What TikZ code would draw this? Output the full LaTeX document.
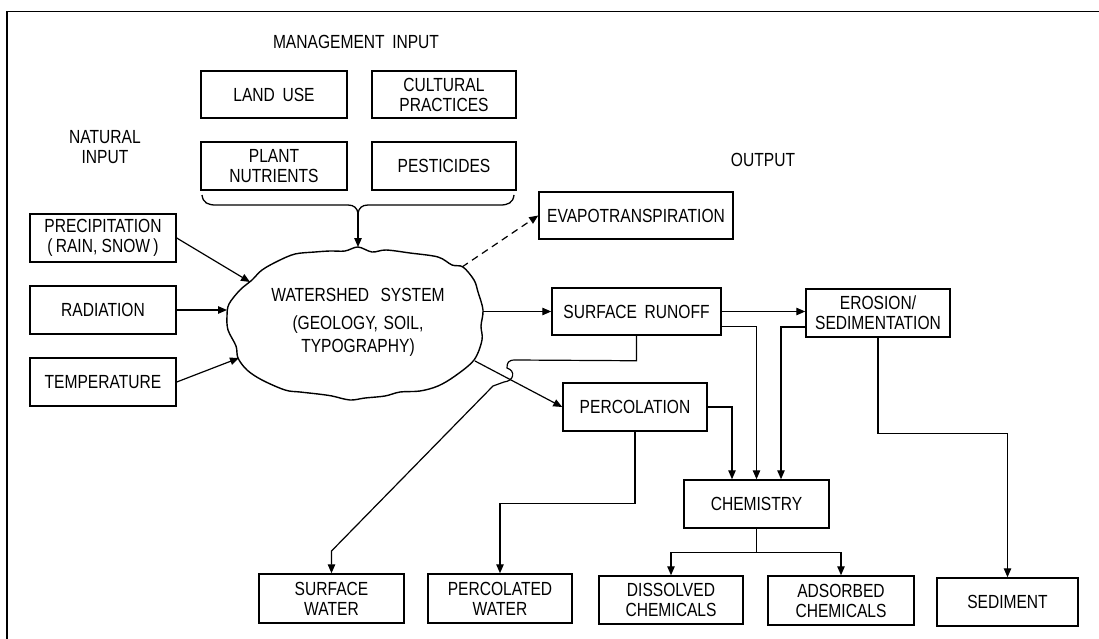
\documentclass[tikz,border=0pt]{standalone}
\usepackage{fontspec}
\newfontfamily\lab{Liberation Sans}[FakeStretch=0.82]
\usetikzlibrary{arrows.meta}
\tikzset{
  box/.style={draw, line width=1.5pt, inner sep=0pt, align=center, font=\lab\fontsize{19}{20}\selectfont},
  lbl/.style={inner sep=0pt, align=center, font=\lab\fontsize{19}{20}\selectfont},
  conn/.style={line width=1.2pt},
  arr/.style={conn, -{Triangle[length=9pt,width=7.5pt]}},
}
\begin{document}
\begin{tikzpicture}[x=1pt,y=-1pt]
\useasboundingbox (0,0) rectangle (1099,639);
% frame (top and left edges)
\draw[line width=1.6pt] (1099,11.5) -- (7,11.5) -- (7,639);

% headings
\node[lbl] (mgmt) at (356,42) {MANAGEMENT\hspace{0.4em}INPUT};
\node[lbl] (nat) at (105,147) {NATURAL\\INPUT};
\node[lbl] (out) at (763,160) {OUTPUT};

% management boxes
\node[box, minimum width=146pt, minimum height=47pt] (land) at (274,94.5) {LAND\hspace{0.4em}USE};
\node[box, minimum width=144pt, minimum height=47pt] (cult) at (444,94.5) {CULTURAL\\PRACTICES};
\node[box, minimum width=146pt, minimum height=48pt] (plant) at (274,166) {PLANT\\NUTRIENTS};
\node[box, minimum width=144pt, minimum height=48pt] (pest) at (444,166) {PESTICIDES};

% natural input boxes
\node[box, minimum width=146pt, minimum height=48pt] (prec) at (103,238) {PRECIPITATION\\(\,RAIN, SNOW\,)};
\node[box, minimum width=146pt, minimum height=48pt] (rad) at (103,310) {RADIATION};
\node[box, minimum width=146pt, minimum height=48pt] (temp) at (103,382) {TEMPERATURE};

% output boxes
\node[box, minimum width=194pt, minimum height=47pt] (evap) at (636,215.5) {EVAPOTRANSPIRATION};
\node[box, minimum width=169pt, minimum height=47pt] (sr) at (636.5,311.5) {SURFACE\hspace{0.4em}RUNOFF};
\node[box, minimum width=144pt, minimum height=48pt] (eros) at (878,313) {EROSION/\\SEDIMENTATION};
\node[box, minimum width=144pt, minimum height=48pt] (perc) at (635,407) {PERCOLATION};
\node[box, minimum width=145pt, minimum height=48pt] (chem) at (756.5,504) {CHEMISTRY};
\node[box, minimum width=145pt, minimum height=49pt] (sw) at (331.5,598.5) {SURFACE\\WATER};
\node[box, minimum width=144pt, minimum height=49pt] (pw) at (500,598.5) {PERCOLATED\\WATER};
\node[box, minimum width=144pt, minimum height=48pt] (dis) at (671,600) {DISSOLVED\\CHEMICALS};
\node[box, minimum width=146pt, minimum height=49pt] (ads) at (841,600.5) {ADSORBED\\CHEMICALS};
\node[box, minimum width=141pt, minimum height=48pt] (sed) at (1007.5,602) {SEDIMENT};

% watershed cloud
\draw[line width=1.4pt] plot[smooth cycle, tension=0.55] coordinates {
  (358,247) (372,252) (386,250) (410,253) (438,257) (452,265) (463,267)
  (474,280) (478,292) (483,310) (481,326) (482,340) (474,360) (455,376)
  (438,386) (420,391) (400,392) (385,396) (365,398) (350,400) (332,396)
  (318,394) (300,392) (285,390) (262,380) (247,370) (238,358) (236,346)
  (228,330) (227,316) (229,304) (240,290) (252,280) (262,270) (278,261)
  (295,254) (315,252) (330,251) (345,251)};
\node[lbl] (ws) at (358,322) {WATERSHED\hspace{0.6em}SYSTEM\\[8pt](GEOLOGY,\hspace{0.3em}SOIL,\\[3pt]TYPOGRAPHY)};
\coordinate (cTop) at (358,247);
\coordinate (cPrec) at (250,282);
\coordinate (cRad) at (227,310);
\coordinate (cTemp) at (239,358);
\coordinate (cEvap) at (462,267);
\coordinate (cSR) at (483,311.5);
\coordinate (cPerc) at (475,361);

% brace under management inputs
\coordinate (bTip) at (358,213);
\draw[line width=1.3pt] (202,195) .. controls (203,203) and (208,205) .. (216,205)
  -- (348,205) .. controls (354,205) and (357,208) .. (bTip)
  .. controls (359,208) and (362,205) .. (368,205)
  -- (500,205) .. controls (508,205) and (513,203) .. (514,195);
\draw[arr] (bTip) -- (cTop);

% natural inputs
\draw[arr] (prec.east) -- (cPrec);
\draw[arr] (rad.east) -- (cRad);
\draw[arr] (temp.east) -- (cTemp);

% outputs
\draw[arr, dashed, dash pattern=on 7pt off 5pt] (cEvap) -- (evap.west);
\draw[arr] (cSR) -- (sr.west);
\draw[arr] (sr.east) -- (sr.east -| eros.west);
\draw[arr] ([yshift=-15pt]sr.east) -| (chem.north);
\draw[arr] ([yshift=-14pt]eros.west) -| ([xshift=24.5pt]chem.north);
\draw[arr] (cPerc) -- (perc.west);
\draw[arr] (perc.east) -| ([xshift=-24.5pt]chem.north);
\draw[arr] (perc.south) -- ++(0,72) -| (pw.north);
\draw[arr] (sr.south) -- ++(0,25) -- (515,360)
  .. controls (508,360) and (507,363) .. (507,368)
  .. controls (516,371) and (514,381) .. (504,382)
  -- (493,386) -- (331.5,551) -- (sw.north);
\draw[conn] (chem.south) -- ++(0,24) coordinate (cj);
\draw[arr] (cj) -| (dis.north);
\draw[arr] (cj) -| (ads.north);
\draw[arr] (eros.south) -- ++(0,96) -| (sed.north);
\end{tikzpicture}
\end{document}
